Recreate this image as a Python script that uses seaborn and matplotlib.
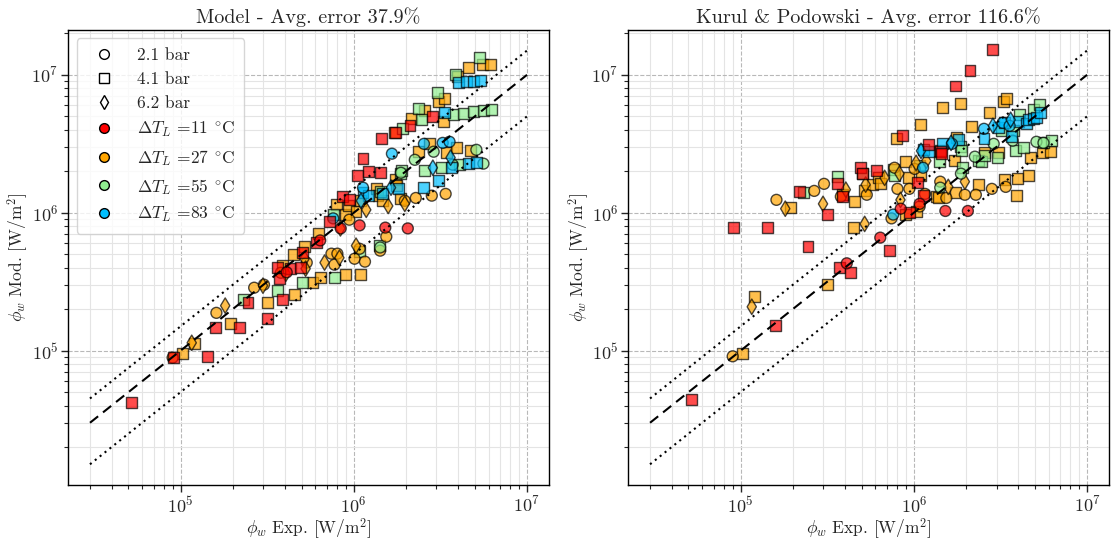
import numpy as np
import pandas as pd
import matplotlib
matplotlib.use("Agg")
import matplotlib.pyplot as plt
import seaborn as sns
from matplotlib.lines import Line2D

sns.set_style("ticks")
plt.rcParams["font.family"] = ["cmr10", "DejaVu Serif"]
plt.rcParams["mathtext.fontset"] = "cm"
plt.rcParams["axes.formatter.use_mathtext"] = True
plt.rcParams["axes.unicode_minus"] = False

# ---------------- data (W/m^2) ----------------
# 4.1 bar, dT = 11
p41_t11_exp = [5.2e4, 9.1e4, 1.43e5, 1.59e5, 2.18e5, 2.45e5, 3.19e5, 3.64e5, 3.74e5, 3.89e5, 4.32e5, 4.94e5, 5.07e5,
               6.10e5, 7.24e5, 8.60e5, 9.42e5, 1.05e6, 1.13e6, 1.21e6, 1.42e6, 1.44e6, 1.73e6, 2.11e6, 2.86e6]
p41_t11_mod = [4.2e4, 8.9e4, 9.1e4, 1.47e5, 1.47e5, 2.23e5, 1.71e5, 3.99e5, 3.33e5, 2.34e5, 3.93e5, 3.99e5, 5.13e5,
               6.07e5, 8.6e5, 1.31e6, 1.24e6, 1.85e6, 2.46e6, 1.98e6, 1.95e6, 3.44e6, 3.80e6, 4.27e6, 4.96e6]
p41_t11_kp = [4.4e4, 7.8e5, 7.8e5, 1.52e5, 1.42e6, 5.67e5, 9.7e5, 1.62e6, 4.0e5, 1.31e6, 3.67e5, 2.12e6, 1.92e6,
              2.01e6, 5.3e5, 3.61e6, 1.0e6, 1.65e6, 1.33e6, 3.11e6, 2.77e6, 2.68e6, 8.3e6, 1.07e7, 1.52e7]

# 2.1 bar, dT = 11
p21_t11_exp = [4.1e5, 6.4e5, 8.4e5, 1.08e6, 1.52e6, 2.05e6]
p21_t11_mod = [3.7e5, 6.3e5, 7.7e5, 8.1e5, 7.8e5, 7.7e5]
p21_t11_kp = [4.3e5, 6.6e5, 1.07e6, 1.16e6, 1.03e6, 1.03e6]

# 2.1 bar, dT = 27
p21_t27_exp = [9.0e4, 1.61e5, 2.66e5, 3.03e5, 3.79e5, 5.35e5, 7.43e5, 7.73e5, 8.04e5, 9.42e5, 1.01e6, 1.08e6,
               1.16e6, 1.42e6, 1.54e6, 1.97e6, 2.28e6, 2.82e6, 3.39e6]
p21_t27_mod = [8.9e4, 1.88e5, 2.86e5, 3.01e5, 3.67e5, 4.35e5, 5.05e5, 4.20e5, 5.05e5, 8.9e5, 4.64e5, 5.48e5,
               4.42e5, 5.31e5, 6.7e5, 1.22e6, 1.28e6, 1.33e6, 1.37e6]
p21_t27_kp = [9.1e4, 1.24e6, 1.44e6, 1.62e6, 1.31e6, 1.35e6, 9.1e5, 2.12e6, 1.49e6, 1.49e6, 2.08e6, 1.11e6,
              1.37e6, 1.68e6, 1.28e6, 1.35e6, 1.35e6, 1.49e6, 1.54e6]

# 2.1 bar, dT = 55
p21_t55_exp = [1.42e6, 1.87e6, 2.25e6, 2.89e6, 3.72e6, 5.1e6, 5.6e6]
p21_t55_mod = [5.6e5, 1.95e6, 2.42e6, 2.77e6, 2.23e6, 2.86e6, 2.27e6]
p21_t55_kp = [1.52e6, 1.92e6, 2.55e6, 3.16e6, 3.33e6, 3.27e6, 3.21e6]

# 2.1 bar, dT = 83
p21_t83_exp = [7.6e5, 1.13e6, 1.66e6, 2.54e6, 3.26e6, 3.57e6]
p21_t83_mod = [9.1e5, 1.52e6, 2.68e6, 3.16e6, 3.21e6, 3.27e6]
p21_t83_kp = [9.7e5, 2.12e6, 3.16e6, 4.06e6, 4.49e6, 4.27e6]

# 6.2 bar, dT = 27
p62_t27_exp = [1.16e5, 1.81e5, 2.99e5, 4.05e5, 5.2e5, 5.27e5, 6.78e5, 8.26e5, 8.37e5, 1.03e6, 1.18e6, 1.58e6, 1.97e6]
p62_t27_mod = [1.14e5, 2.12e5, 2.96e5, 3.61e5, 4.64e5, 3.93e5, 4.35e5, 4.72e5, 7.7e5, 5.77e5, 1.05e6, 1.12e6, 1.16e6]
p62_t27_kp = [2.08e5, 1.07e6, 1.16e6, 1.47e6, 8.3e5, 1.6e6, 1.79e6, 1.92e6, 1.24e6, 2.30e6, 2.38e6, 1.54e6, 1.68e6]

# 6.2 bar, dT = 83
p62_t83_exp = [1.10e6, 1.64e6, 2.86e6, 3.62e6]
p62_t83_mod = [1.22e6, 1.52e6, 2.12e6, 2.51e6]
p62_t83_kp = [2.81e6, 3.21e6, 4.27e6, 4.72e6]

# 4.1 bar, dT = 55
p41_t55_exp = [2.30e5, 3.64e5, 5.07e5, 7.6e5, 7.73e5, 1.08e6, 1.40e6, 1.42e6, 1.85e6, 1.90e6, 1.88e6, 2.37e6,
               2.47e6, 2.57e6, 3.05e6, 3.21e6, 3.77e6, 3.87e6, 4.07e6, 4.30e6, 4.91e6, 5.31e6, 5.6e6, 6.22e6]
p41_t55_mod = [2.34e5, 2.72e5, 3.11e5, 9.7e5, 3.38e5, 5.22e5, 5.77e5, 1.42e6, 1.92e6, 4.06e6, 2.01e6, 5.67e6,
               4.72e6, 2.01e6, 7.5e6, 2.12e6, 5.13e6, 1.0e7, 2.23e6, 5.21e6, 5.39e6, 1.33e7, 5.48e6, 5.58e6]
p41_t55_kp = [1.40e6, 1.82e6, 1.92e6, 2.05e6, 1.85e6, 2.19e6, 2.34e6, 2.81e6, 3.0e6, 2.12e6, 2.81e6, 2.38e6,
              2.34e6, 2.59e6, 2.51e6, 3.93e6, 3.93e6, 2.81e6, 5.13e6, 2.96e6, 5.58e6, 6.07e6, 3.21e6, 3.33e6]

# 4.1 bar, dT = 83
p41_t83_exp = [1.13e6, 1.21e6, 1.46e6, 1.82e6, 2.54e6, 3.09e6, 3.34e6, 3.67e6, 4.03e6, 4.47e6, 4.59e6, 4.91e6,
               5.10e6, 5.38e6]
p41_t83_mod = [1.40e6, 1.33e6, 1.37e6, 1.49e6, 1.52e6, 1.71e6, 5.31e6, 2.12e6, 8.75e6, 8.9e6, 2.27e6, 8.9e6,
               2.30e6, 9.05e6]
p41_t83_kp = [2.86e6, 2.77e6, 3.16e6, 3.38e6, 3.44e6, 4.13e6, 4.49e6, 3.56e6, 4.56e6, 4.41e6, 4.72e6, 4.80e6,
              4.88e6, 5.31e6]

# 4.1 bar, dT = 27
p41_t27_exp = [1.03e5, 1.20e5, 1.94e5, 3.19e5, 3.89e5, 4.50e5, 4.56e5, 5.20e5, 5.78e5, 6.27e5, 6.43e5, 7.94e5,
               8.94e5, 9.0e5, 9.30e5, 1.03e6, 1.09e6, 1.10e6, 1.35e6, 1.38e6, 1.46e6, 1.71e6, 1.73e6, 1.77e6,
               1.85e6, 2.16e6, 2.37e6, 2.57e6, 2.74e6, 3.09e6, 3.34e6, 3.30e6, 3.44e6, 3.92e6, 3.95e6, 4.59e6,
               4.71e6, 5.52e6, 6.13e6]
p41_t27_mod = [9.5e4, 1.13e5, 1.57e5, 2.23e5, 4.13e5, 4.97e5, 2.55e5, 5.67e5, 3.11e5, 7.05e5, 3.38e5, 1.14e6,
               9.7e5, 3.56e5, 1.12e6, 1.02e6, 1.22e6, 3.56e5, 1.49e6, 1.33e6, 1.22e6, 3.80e6, 1.73e6, 1.57e6,
               1.26e6, 4.80e6, 2.77e6, 5.48e6, 3.16e6, 6.37e6, 6.70e6, 4.56e6, 2.72e6, 2.96e6, 9.7e6, 1.13e7,
               2.81e6, 1.18e7, 1.18e7]
p41_t27_kp = [9.5e4, 2.46e5, 1.09e6, 3.01e5, 1.35e6, 7.8e5, 1.20e6, 1.44e6, 1.60e6, 1.79e6, 1.62e6, 3.44e6,
              9.7e5, 2.34e6, 1.79e6, 1.02e6, 4.34e6, 1.85e6, 1.31e6, 1.28e6, 5.77e6, 2.38e6, 1.40e6, 3.49e6,
              6.17e6, 4.20e6, 1.60e6, 2.72e6, 5.31e6, 2.72e6, 1.73e6, 6.37e6, 6.70e6, 1.33e6, 1.76e6, 1.85e6,
              2.51e6, 2.72e6, 2.77e6]

pressures = ["2.1 bar", "4.1 bar", "6.2 bar"]
delta_T = [11, 27, 55, 83]
titles = ["Model - Avg. error 37.9%", "Kurul & Podowski - Avg. error 116.6%"]
ref_line_x = [3e4, 1e7]

groups = [
    ("4.1 bar", 27, p41_t27_exp, p41_t27_mod, p41_t27_kp),
    ("4.1 bar", 55, p41_t55_exp, p41_t55_mod, p41_t55_kp),
    ("2.1 bar", 27, p21_t27_exp, p21_t27_mod, p21_t27_kp),
    ("6.2 bar", 27, p62_t27_exp, p62_t27_mod, p62_t27_kp),
    ("2.1 bar", 55, p21_t55_exp, p21_t55_mod, p21_t55_kp),
    ("4.1 bar", 83, p41_t83_exp, p41_t83_mod, p41_t83_kp),
    ("2.1 bar", 83, p21_t83_exp, p21_t83_mod, p21_t83_kp),
    ("6.2 bar", 83, p62_t83_exp, p62_t83_mod, p62_t83_kp),
    ("4.1 bar", 11, p41_t11_exp, p41_t11_mod, p41_t11_kp),
    ("2.1 bar", 11, p21_t11_exp, p21_t11_mod, p21_t11_kp),
]
frames = []
for p, t, e, m, k in groups:
    frames.append(pd.DataFrame({"p": p, "dT": t, "exp": e, "mod": m, "kp": k}))
df = pd.concat(frames, ignore_index=True)

palette = {11: "red", 27: "orange", 55: "lightgreen", 83: "deepskyblue"}
markers = {"2.1 bar": "o", "4.1 bar": "s", "6.2 bar": "d"}

fig = plt.figure(figsize=(11.11, 5.42), dpi=100)
ax1 = fig.add_axes([0.0612, 0.105, 0.4330, 0.8400])
ax2 = fig.add_axes([0.5653, 0.105, 0.4330, 0.8400])

rx = np.array(ref_line_x)
for ax, col, title in zip([ax1, ax2], ["mod", "kp"], titles):
    sns.scatterplot(data=df, x="exp", y=col, hue="dT", style="p", palette=palette, markers=markers,
                    s=62, alpha=0.7, edgecolor="black", linewidth=1.0, legend=False, ax=ax, zorder=3)
    ax.plot(rx, rx, color="black", ls=(0, (5, 3)), lw=1.5, zorder=4)
    ax.plot(rx, 1.5 * rx, color="black", ls=(0, (1, 2)), lw=1.5, zorder=4)
    ax.plot(rx, 0.5 * rx, color="black", ls=(0, (1, 2)), lw=1.5, zorder=4)
    ax.set_xscale("log")
    ax.set_yscale("log")
    ax.set_xlim(2.24e4, 1.34e7)
    ax.set_ylim(1.06e4, 2.12e7)
    ax.grid(which="major", ls="--", color="#b8b8b8", lw=0.8)
    ax.grid(which="minor", ls="-", color="#e4e4e4", lw=0.8)
    ax.set_axisbelow(True)
    for s in ax.spines.values():
        s.set_color("black")
        s.set_linewidth(1.0)
    ax.tick_params(which="major", direction="out", length=5, width=1, labelsize=13, pad=2)
    ax.tick_params(which="minor", direction="out", length=3, width=0.8)
    ax.set_xlabel(r"$\phi_w$ Exp. [W/m$^2$]", fontsize=12.5, labelpad=0)
    ax.set_ylabel(r"$\phi_w$ Mod. [W/m$^2$]", fontsize=12.5, labelpad=0.5)
    ax.set_title(title, fontsize=14.5, pad=5)

handles = [
    Line2D([], [], ls="none", marker="o", mfc="white", mec="black", ms=7, label="2.1 bar"),
    Line2D([], [], ls="none", marker="s", mfc="white", mec="black", ms=7, label="4.1 bar"),
    Line2D([], [], ls="none", marker="d", mfc="white", mec="black", ms=7, label="6.2 bar"),
]
for t in delta_T:
    handles.append(Line2D([], [], ls="none", marker="o", mfc=palette[t], mec="black", ms=7,
                          label=r"$\Delta T_L$ =%d $^{\circ}$C" % t))
ax1.legend(handles=handles, loc="upper left", fontsize=12.5, frameon=True, framealpha=0.8,
           edgecolor="#cccccc", labelspacing=0.5, handletextpad=0.9, borderpad=0.55)

fig.savefig("out.png", dpi=100)
